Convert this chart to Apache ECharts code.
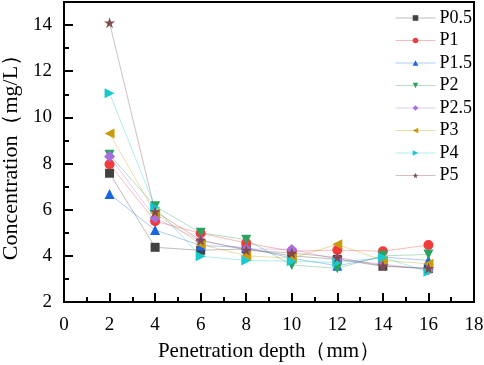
<!DOCTYPE html>
<html>
<head>
<meta charset="utf-8">
<script src="https://cdn.jsdelivr.net/npm/echarts@6/dist/echarts.min.js"></script>
<style>
  html, body { margin: 0; padding: 0; background: #fff; }
  #chart { width: 484px; height: 365px; }
</style>
</head>
<body>
<div id="chart"></div>
<script>
// depth (mm)
const depths = [2, 4, 6, 8, 10, 12, 14, 16]
const seriesNames = ['P0.5', 'P1', 'P1.5', 'P2', 'P2.5', 'P3', 'P4', 'P5']
const p05 = [7.58, 4.37, 4.24, 4.3, 4.0, 3.85, 3.55, 3.45]
const p1 = [7.97, 5.5, 4.98, 4.56, 4.2, 4.25, 4.2, 4.47]
const p15 = [6.68, 5.12, 4.45, 4.36, 3.9, 3.57, 3.95, 3.8]
const p2 = [8.38, 6.15, 5.0, 4.7, 3.6, 3.46, 4.0, 4.06]
const p25 = [8.3, 5.65, 4.65, 4.3, 4.28, 3.85, 3.64, 3.4]
const p3 = [9.3, 5.85, 4.5, 4.0, 3.9, 4.5, 3.8, 3.66]
const p4 = [11.05, 6.1, 3.98, 3.8, 3.77, 3.71, 3.93, 3.31]
const p5 = [14.1, 5.92, 4.68, 4.25, 4.12, 3.93, 3.57, 3.46]
const allValues = [p05, p1, p15, p2, p25, p3, p4, p5]

const colors = ['#424242', '#f23c3c', '#1a66e0', '#2ba35f', '#a86ee0', '#c99a0a', '#19c9cf', '#7d4b4b']
const symbols = ['rect', 'circle', 'triangle',
  'path://M0,0 L10,0 L5,9 Z', 'diamond',
  'path://M9,0 L9,10 L0,5 Z', 'path://M0,0 L0,10 L9,5 Z',
  'path://M5,0 L6.2,3.6 L10,3.6 L6.9,5.8 L8.1,9.5 L5,7.2 L1.9,9.5 L3.1,5.8 L0,3.6 L3.8,3.6 Z']
const sizes = [9, 10, 10, 10, 11, 10, 10, 11]

const font = 'Liberation Serif, Times New Roman, serif'
const chart = echarts.init(document.getElementById('chart'))

const series = seriesNames.map((name, i) => ({
  name,
  type: 'line',
  data: depths.map((d, j) => [d, allValues[i][j]]),
  symbol: symbols[i],
  symbolSize: sizes[i],
  itemStyle: { color: colors[i], opacity: 1 },
  lineStyle: { color: colors[i], width: 1, opacity: 0.35 },
  z: 2 + i
}))

const axisCommon = {
  axisLine: { show: true, onZero: false, lineStyle: { color: '#000', width: 2 } },
  axisTick: { show: true, inside: true, length: 9, lineStyle: { color: '#000', width: 2 } },
  minorTick: { show: true, splitNumber: 2, length: 5, lineStyle: { color: '#000', width: 2 } },
  splitLine: { show: false },
  axisLabel: { color: '#000', fontFamily: font, fontSize: 19 },
  nameTextStyle: { color: '#000', fontFamily: font, fontSize: 21 }
}

chart.setOption({
  animation: false,
  grid: {
    left: 64, right: 10, top: 2, bottom: 63,
    containLabel: false, outerBoundsMode: 'none',
    show: true, borderColor: '#000', borderWidth: 2
  },
  legend: {
    orient: 'vertical',
    left: 390,
    top: 4,
    itemWidth: 40,
    itemHeight: 7,
    itemGap: 4.5,
    data: seriesNames,
    lineStyle: { width: 1, opacity: 0.35 },
    textStyle: { color: '#000', fontFamily: font, fontSize: 18, padding: [0, 0, 0, -1] }
  },
  xAxis: Object.assign({}, axisCommon, {
    type: 'value',
    min: 0,
    max: 18,
    interval: 2,
    name: 'Penetration depth（mm）',
    nameLocation: 'middle',
    nameGap: 39,
    axisLabel: Object.assign({}, axisCommon.axisLabel, { margin: 14 })
  }),
  yAxis: Object.assign({}, axisCommon, {
    type: 'value',
    min: 2,
    max: 15,
    interval: 2,
    name: 'Concentration（mg/L）',
    nameLocation: 'middle',
    nameGap: 40,
    nameTextStyle: Object.assign({}, axisCommon.nameTextStyle, { fontSize: 22 }),
    axisLabel: Object.assign({}, axisCommon.axisLabel, {
      margin: 12,
      formatter: v => (v % 2 === 0 ? String(v) : '')
    })
  }),
  series
})
</script>
</body>
</html>
